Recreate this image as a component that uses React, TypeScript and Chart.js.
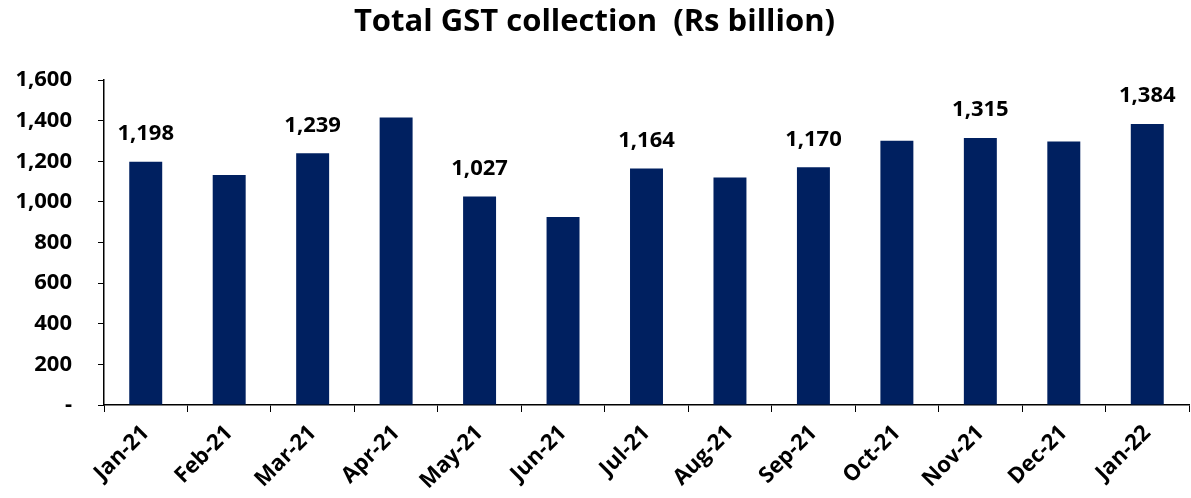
import React, { useEffect, useRef } from "react";
import { Chart, registerables } from "chart.js";

Chart.register(...registerables);

const months = ["Jan-21", "Feb-21", "Mar-21", "Apr-21", "May-21", "Jun-21", "Jul-21", "Aug-21", "Sep-21", "Oct-21", "Nov-21", "Dec-21", "Jan-22"];
const gstValues = [1198, 1132, 1239, 1415, 1027, 926, 1164, 1120, 1170, 1301, 1315, 1297, 1384];
const labelledMonths = ["Jan-21", "Mar-21", "May-21", "Jul-21", "Sep-21", "Nov-21", "Jan-22"];
const yTicks = [0, 200, 400, 600, 800, 1000, 1200, 1400, 1600];

const FONT = "'Open Sans', 'Liberation Sans', sans-serif";

const barLabelPlugin = {
  id: "barLabels",
  afterDatasetsDraw(chart: any) {
    const ctx = chart.ctx;
    const meta = chart.getDatasetMeta(0);
    ctx.save();
    ctx.font = `bold 22px ${FONT}`;
    ctx.fillStyle = "#000";
    ctx.textAlign = "center";
    ctx.textBaseline = "middle";
    meta.data.forEach((bar: any, i: number) => {
      if (!labelledMonths.includes(months[i])) return;
      ctx.fillText(gstValues[i].toLocaleString("en-US"), bar.x, bar.y - 28);
    });
    ctx.restore();
  },
};

export default function App() {
  const ref = useRef<HTMLCanvasElement>(null);
  useEffect(() => {
    if (!ref.current) return;
    const chart = new Chart(ref.current, {
      type: "bar",
      data: {
        labels: months,
        datasets: [
          {
            data: gstValues,
            backgroundColor: "#002060",
            categoryPercentage: 1,
            barPercentage: 0.395,
          },
        ],
      },
      options: {
        animation: false,
        responsive: false,
        layout: { padding: { left: 0, right: 2, top: 0, bottom: 0 } },
        plugins: {
          legend: { display: false },
          tooltip: { enabled: false },
          title: {
            display: true,
            text: "Total GST collection  (Rs billion)",
            color: "#000",
            font: { family: FONT, size: 31, weight: "bold", lineHeight: 1.2 },
            padding: { top: 4, bottom: 38.8 },
          },
        },
        scales: {
          x: {
            grid: { drawOnChartArea: false, drawTicks: true, tickLength: 7, color: "#000", offset: true },
            border: { display: true, color: "#000", width: 1.5 },
            ticks: {
              color: "#000",
              font: { family: FONT, size: 22, weight: "bold" },
              maxRotation: 45,
              minRotation: 45,
              autoSkip: false,
              padding: 8,
            },
            afterFit(scale: any) {
              scale.height = 93;
            },
          },
          y: {
            min: 0,
            max: 1600,
            afterBuildTicks(scale: any) {
              scale.ticks = yTicks.map((v) => ({ value: v }));
            },
            grid: { drawOnChartArea: false, drawTicks: true, tickLength: 6, color: "#000" },
            border: { display: true, color: "#000", width: 1.5 },
            ticks: {
              color: "#000",
              font: { family: FONT, size: 22, weight: "bold" },
              padding: 26,
              callback: (v: any) => (Number(v) === 0 ? "-" : Number(v).toLocaleString("en-US")),
            },
            afterFit(scale: any) {
              scale.width = 104;
            },
          },
        },
      },
      plugins: [barLabelPlugin],
    });
    return () => chart.destroy();
  }, []);
  return (
    <div style={{ position: "fixed", left: 0, top: 0, width: 1191, height: 498, background: "#fff" }}>
      <canvas ref={ref} width={1191} height={498} style={{ display: "block" }} />
    </div>
  );
}
